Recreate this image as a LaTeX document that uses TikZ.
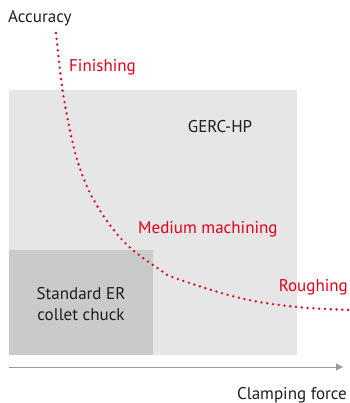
\documentclass[tikz,border=0pt]{standalone}
\usepackage{fontspec}
\setmainfont{PT Sans}
\usepackage{tikz}
\usetikzlibrary{arrows.meta}
\definecolor{gcRed}{HTML}{E2001A}
\definecolor{gcLight}{HTML}{E6E6E6}
\definecolor{gcMid}{HTML}{C9CACA}
\definecolor{gcDark}{HTML}{1E1E1E}
\definecolor{gcAxis}{HTML}{9A9A9A}

\begin{document}
\begin{tikzpicture}[x=1pt,y=-1pt,font=\fontsize{17}{20}\selectfont,
  redlbl/.style={gcRed,anchor=west,inner sep=0pt},
  darklbl/.style={gcDark,inner sep=0pt}]
  \useasboundingbox (0,0) rectangle (349,403);
  % zones
  \fill[gcLight] (9,90) rectangle (297,355);
  \fill[gcMid] (9,250) rectangle (153,355);
  \node[darklbl] (gerc) at (220,127) {GERC-HP};
  \node[darklbl,align=center] (er) at (81,304) {Standard ER\\[1pt]collet chuck};
  % axe
  \node[darklbl,anchor=west] (acc) at (8,18) {Accuracy};
  \coordinate (ax0) at (9,367);
  \coordinate (ax1) at (343,367);
  \draw[gcAxis,line width=1pt,-{Triangle[length=7pt,width=7pt]}] (ax0) -- (ax1);
  \node[darklbl,anchor=east] (force) at (347,395) {Clamping force};
  % courbe
  \draw[gcRed,line width=2.6pt,line cap=round,dash pattern=on 0pt off 5.8pt]
    plot[smooth,tension=0.6] coordinates {(56,33) (63,93) (74,148) (85,182) (99,209)
      (117,234) (134,251) (159,269) (175,278) (240,298) (297,307) (352,310)};
  \node[redlbl] (fin) at (69,67) {Finishing};
  \node[redlbl] (med) at (138,229) {Medium machining};
  \node[redlbl,anchor=east] (rough) at (348,287) {Roughing};
\end{tikzpicture}
\end{document}
